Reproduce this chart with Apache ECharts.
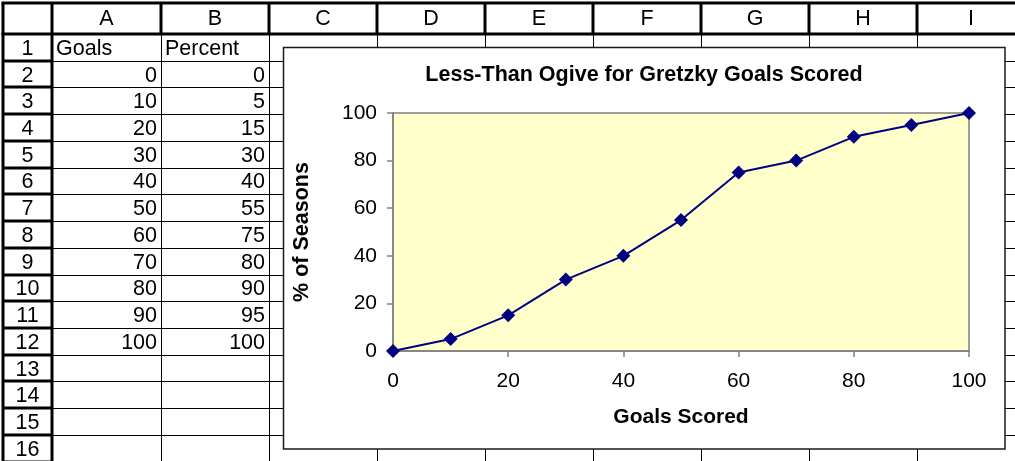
<!DOCTYPE html>
<html>
<head>
<meta charset="utf-8">
<title>Less-Than Ogive for Gretzky Goals Scored</title>
<script src="https://cdn.jsdelivr.net/npm/echarts@6/dist/echarts.min.js"></script>
<style>
  html, body { margin: 0; padding: 0; background: #ffffff; }
  #chart { width: 1015px; height: 461px; }
</style>
</head>
<body>
<div id="chart"></div>
<script>
// data
const goals = [0, 10, 20, 30, 40, 50, 60, 70, 80, 90, 100]
const percent = [0, 5, 15, 30, 40, 55, 75, 80, 90, 95, 100]
const columnLabels = ['A', 'B', 'C', 'D', 'E', 'F', 'G', 'H', 'I']
const headerCells = ['Goals', 'Percent']
const rowCount = 16

// sheet layout
const FONT = '"Liberation Sans", Arial, sans-serif'
const colEdges = [52, 161, 269, 377, 485, 593, 701, 809, 917, 1025]
const headerTop = 3
const headerBottom = 34
const rowH = 26.73
const W = 1015
const H = 461

const rowTop = i => headerBottom + (i - 1) * rowH
const crisp = v => Math.round(v) + 0.5

const sheet = []

function addLine(x1, y1, x2, y2, w) {
  sheet.push({
    type: 'line',
    z: -2,
    silent: true,
    shape: { x1, y1, x2, y2 },
    style: { stroke: '#000', lineWidth: w }
  })
}

function addText(x, y, str, align) {
  sheet.push({
    type: 'text',
    z: -2,
    silent: true,
    x,
    y,
    style: {
      text: String(str),
      fill: '#000',
      font: '21.5px ' + FONT,
      textAlign: align,
      textVerticalAlign: 'middle',
      align: align,
      verticalAlign: 'middle'
    }
  })
}

// thin cell lines
for (let i = 2; i <= rowCount + 1; i++) {
  const y = crisp(rowTop(i))
  addLine(colEdges[0], y, W, y, 1)
}
for (let c = 1; c < colEdges.length; c++) {
  const x = crisp(colEdges[c])
  addLine(x, headerBottom, x, H, 1)
}

// thick header lines
addLine(1.5, headerTop, W, headerTop, 3)
addLine(1.5, headerBottom, W, headerBottom, 3)
addLine(3, headerTop, 3, H, 3)
addLine(colEdges[0], headerTop, colEdges[0], H, 3)
for (let c = 1; c < colEdges.length; c++) {
  addLine(colEdges[c], headerTop, colEdges[c], headerBottom, 3)
}
for (let i = 2; i <= rowCount + 1; i++) {
  const y = Math.round(rowTop(i))
  addLine(3, y, colEdges[0], y, 3)
}

// header texts
columnLabels.forEach((lab, c) => {
  addText((colEdges[c] + colEdges[c + 1]) / 2, (headerTop + headerBottom) / 2 + 1, lab, 'center')
})
for (let i = 1; i <= rowCount; i++) {
  addText((3 + colEdges[0]) / 2, rowTop(i) + rowH / 2 + 1.5, i, 'center')
}

// cell contents
addText(colEdges[0] + 4, rowTop(1) + rowH / 2 + 1.5, headerCells[0], 'left')
addText(colEdges[1] + 4, rowTop(1) + rowH / 2 + 1.5, headerCells[1], 'left')
goals.forEach((g, i) => {
  addText(colEdges[1] - 4, rowTop(i + 2) + rowH / 2 + 1.5, g, 'right')
  addText(colEdges[2] - 4, rowTop(i + 2) + rowH / 2 + 1.5, percent[i], 'right')
})

// chart area box
sheet.push({
  type: 'rect',
  z: -1,
  silent: true,
  shape: { x: 283.5, y: 47.5, width: 721.5, height: 401.5 },
  style: { fill: '#ffffff', stroke: '#1a1a1a', lineWidth: 1.5 }
})

const chart = echarts.init(document.getElementById('chart'))

const axisStyle = {
  axisLine: { show: true, lineStyle: { color: '#808080', width: 1.5 } },
  axisTick: { show: true, inside: false, length: 6, lineStyle: { color: '#808080', width: 1.5 } },
  splitLine: { show: false }
}

chart.setOption({
  animation: false,
  title: {
    text: 'Less-Than Ogive for Gretzky Goals Scored',
    left: 644,
    top: 64,
    padding: 0,
    textAlign: 'center',
    textStyle: { color: '#000', fontSize: 21.5, fontWeight: 'bold', fontFamily: FONT }
  },
  graphic: { elements: sheet },
  grid: {
    left: 393,
    top: 113,
    right: 46,
    bottom: 110,
    show: true,
    backgroundColor: '#FFFFCC',
    borderColor: '#808080',
    borderWidth: 1.5
  },
  xAxis: {
    type: 'value',
    min: 0,
    max: 100,
    interval: 20,
    name: 'Goals Scored',
    nameLocation: 'middle',
    nameGap: 56,
    nameTextStyle: { color: '#000', fontSize: 21, fontWeight: 'bold', fontFamily: FONT },
    axisLabel: { color: '#000', fontSize: 21, fontFamily: FONT, margin: 20 },
    ...axisStyle
  },
  yAxis: {
    type: 'value',
    min: 0,
    max: 100,
    interval: 20,
    name: '% of Seasons',
    nameLocation: 'middle',
    nameRotate: 90,
    nameGap: 80,
    nameTextStyle: { color: '#000', fontSize: 21.5, fontWeight: 'bold', fontFamily: FONT },
    axisLabel: { color: '#000', fontSize: 21, fontFamily: FONT, margin: 16 },
    ...axisStyle
  },
  series: [
    {
      type: 'line',
      data: goals.map((g, i) => [g, percent[i]]),
      symbol: 'diamond',
      symbolSize: 14,
      showSymbol: true,
      clip: false,
      lineStyle: { color: '#000080', width: 2 },
      itemStyle: { color: '#000080' }
    }
  ]
})
</script>
</body>
</html>
